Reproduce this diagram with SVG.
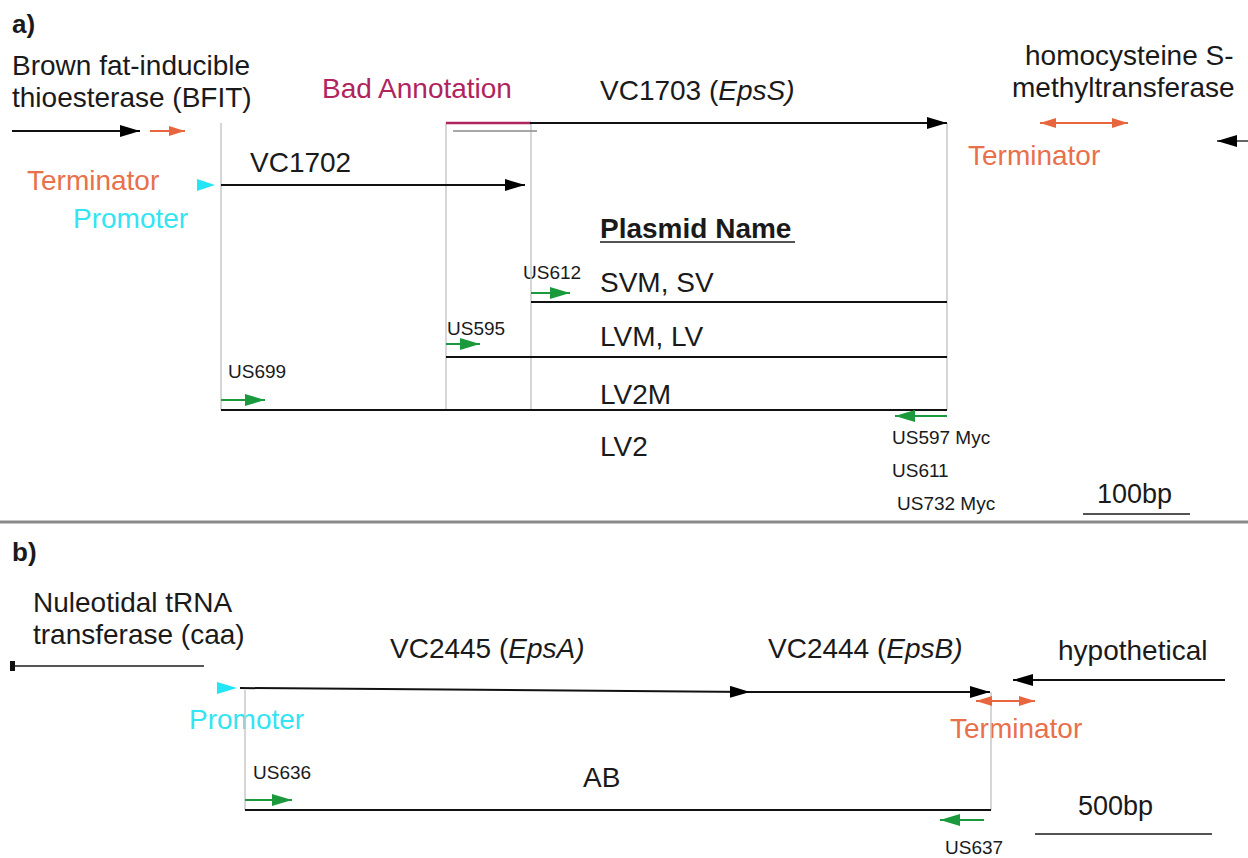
<svg xmlns="http://www.w3.org/2000/svg" width="1248" height="858" viewBox="0 0 1248 858">
<style>
text{font-family:"Liberation Sans",Arial,sans-serif;}
.t{font-size:28px;fill:#1a1a1a;}
.s{font-size:19px;fill:#1a1a1a;}
.h{font-size:26px;font-weight:bold;fill:#1a1a1a;}
.term{font-size:28px;fill:#e8704a;}
.prom{font-size:28px;fill:#33e4f2;}
.bk{stroke:#111;stroke-width:2;fill:none;}
.gr{stroke:#c8c8c8;stroke-width:1.5;fill:none;}
.gn{stroke:#1a9a3c;stroke-width:2;fill:none;}
.or{stroke:#e8663d;stroke-width:2;fill:none;}
</style>
<defs>
<marker id="ab" markerUnits="userSpaceOnUse" markerWidth="20" markerHeight="12" refX="20" refY="6" orient="auto"><path d="M0,0 L20,6 L0,12 z" fill="#000"/></marker>
<marker id="ag" markerUnits="userSpaceOnUse" markerWidth="20" markerHeight="12" refX="20" refY="6" orient="auto"><path d="M0,0 L20,6 L0,12 z" fill="#1a9a3c"/></marker>
<marker id="ao" markerUnits="userSpaceOnUse" markerWidth="16" markerHeight="10" refX="16" refY="5" orient="auto-start-reverse"><path d="M0,0 L16,5 L0,10 z" fill="#e8663d"/></marker>
</defs>
<rect width="1248" height="858" fill="#fff"/>

<!-- panel a -->
<text id="label-a" class="h" x="12" y="33">a)</text>

<g id="bfit">
<text class="t" x="12" y="75">Brown fat-inducible</text>
<text class="t" x="12" y="107">thioesterase (BFIT)</text>
</g>

<g id="homocysteine">
<text class="t" x="1025" y="65">homocysteine S-</text>
<text class="t" x="1012" y="97">methyltransferase</text>
</g>

<g id="bad-annotation">
<text x="322" y="98" style="font-size:28px;fill:#b0245e">Bad Annotation</text>
</g>

<g id="vc1703-label">
<text class="t" x="600" y="100">VC1703 (<tspan font-style="italic">EpsS)</tspan></text>
</g>

<g id="vc1702-label">
<text class="t" x="250" y="172">VC1702</text>
</g>

<g id="terminator-a1"><text class="term" x="27" y="190">Terminator</text></g>
<g id="promoter-a"><text class="prom" x="73" y="228">Promoter</text></g>
<g id="terminator-a2"><text class="term" x="968" y="165">Terminator</text></g>

<g id="plasmid-name">
<text x="600" y="238" style="font-size:28px;font-weight:bold;fill:#1a1a1a">Plasmid Name</text>
<line x1="600" y1="242" x2="795" y2="242" stroke="#1a1a1a" stroke-width="1.5"/>
</g>

<g id="sv"><text class="t" x="600" y="292">SVM, SV</text></g>
<g id="lv"><text class="t" x="600" y="346">LVM, LV</text></g>
<g id="lv2m"><text class="t" x="600" y="404">LV2M</text></g>
<g id="lv2"><text class="t" x="600" y="456">LV2</text></g>

<g id="primers-a">
<text class="s" x="523" y="279">US612</text>
<text class="s" x="447" y="335">US595</text>
<text class="s" x="228" y="378">US699</text>
<text class="s" x="892" y="444">US597 Myc</text>
<text class="s" x="892" y="477">US611</text>
<text class="s" x="897" y="510">US732 Myc</text>
</g>

<g id="scale-a">
<text x="1097" y="503" style="font-size:27px;fill:#1a1a1a">100bp</text>
<line x1="1083" y1="514" x2="1190" y2="514" stroke="#1a1a1a" stroke-width="1.5"/>
</g>

<line id="divider" x1="0" y1="522" x2="1248" y2="522" stroke="#8a8a8a" stroke-width="3"/>

<!-- panel b -->
<text id="label-b" class="h" x="12" y="561">b)</text>

<g id="caa">
<text class="t" x="33" y="612">Nuleotidal tRNA</text>
<text class="t" x="33" y="644">transferase (caa)</text>
</g>
<g id="vc2445-label"><text class="t" x="390" y="658">VC2445 (<tspan font-style="italic">EpsA)</tspan></text></g>
<g id="vc2444-label"><text class="t" x="768" y="658">VC2444 (<tspan font-style="italic">EpsB)</tspan></text></g>
<g id="hypothetical"><text class="t" x="1058" y="660">hypothetical</text></g>
<g id="promoter-b"><text class="prom" x="189" y="729">Promoter</text></g>
<g id="terminator-b"><text class="term" x="950" y="738">Terminator</text></g>
<g id="ab-plasmid"><text class="t" x="583" y="787">AB</text></g>
<g id="primers-b">
<text class="s" x="253" y="779">US636</text>
<text class="s" x="945" y="854">US637</text>
</g>
<g id="scale-b">
<text x="1078" y="815" style="font-size:27px;fill:#1a1a1a">500bp</text>
<line x1="1035" y1="834" x2="1212" y2="834" stroke="#1a1a1a" stroke-width="1.5"/>
</g>

<!-- connectors -->
<g id="connectors">
<line class="gr" x1="221" y1="123" x2="221" y2="410"/>
<line class="gr" x1="446" y1="123" x2="446" y2="410"/>
<line class="gr" x1="531" y1="123" x2="531" y2="410"/>
<line class="gr" x1="947" y1="123" x2="947" y2="410"/>
<line class="bk" x1="12" y1="131" x2="140" y2="131" marker-end="url(#ab)"/>
<line class="or" x1="150" y1="131" x2="185" y2="131" marker-end="url(#ao)"/>
<line class="bk" x1="221" y1="185" x2="525" y2="185" marker-end="url(#ab)"/>
<polygon points="197,179 215,185 197,191" fill="#22e5f5"/>
<line x1="446" y1="123" x2="531" y2="123" stroke="#b0245e" stroke-width="2.5"/>
<line x1="453" y1="131" x2="537" y2="131" stroke="#8a8a8a" stroke-width="1.5"/>
<line class="bk" x1="530" y1="123" x2="947" y2="123" marker-end="url(#ab)"/>
<line class="or" x1="1040" y1="123" x2="1128" y2="123" marker-start="url(#ao)" marker-end="url(#ao)"/>
<line x1="1248" y1="141" x2="1217" y2="141" stroke="#666" stroke-width="2" marker-end="url(#ab)"/>
<line class="bk" x1="531" y1="302" x2="947" y2="302"/>
<line class="bk" x1="446" y1="357" x2="947" y2="357" stroke="#444"/>
<line class="bk" x1="221" y1="410" x2="947" y2="410"/>
<line class="gn" x1="531" y1="293" x2="570" y2="293" marker-end="url(#ag)"/>
<line class="gn" x1="446" y1="344" x2="480" y2="344" marker-end="url(#ag)"/>
<line class="gn" x1="221" y1="400" x2="265" y2="400" marker-end="url(#ag)"/>
<line class="gn" x1="947" y1="416" x2="895" y2="416" marker-end="url(#ag)"/>

<line class="gr" x1="245" y1="690" x2="245" y2="810"/>
<line class="gr" x1="991" y1="692" x2="991" y2="810"/>
<line x1="204" y1="666" x2="14" y2="666" stroke="#555" stroke-width="2"/>
<rect x="10" y="661" width="5" height="10" fill="#111"/>
<polygon points="217,682 237,688 217,694" fill="#22e5f5"/>
<line class="bk" x1="240" y1="688" x2="750" y2="692" marker-end="url(#ab)"/>
<line class="bk" x1="750" y1="692" x2="990" y2="692" marker-end="url(#ab)"/>
<line class="bk" x1="1225" y1="680" x2="1013" y2="680" stroke="#555" marker-end="url(#ab)"/>
<line class="or" x1="976" y1="701" x2="1035" y2="701" marker-start="url(#ao)" marker-end="url(#ao)"/>
<line class="bk" x1="245" y1="810" x2="991" y2="810"/>
<line class="gn" x1="245" y1="800" x2="292" y2="800" marker-end="url(#ag)"/>
<line class="gn" x1="984" y1="820" x2="940" y2="820" marker-end="url(#ag)"/>
</g>
</svg>
